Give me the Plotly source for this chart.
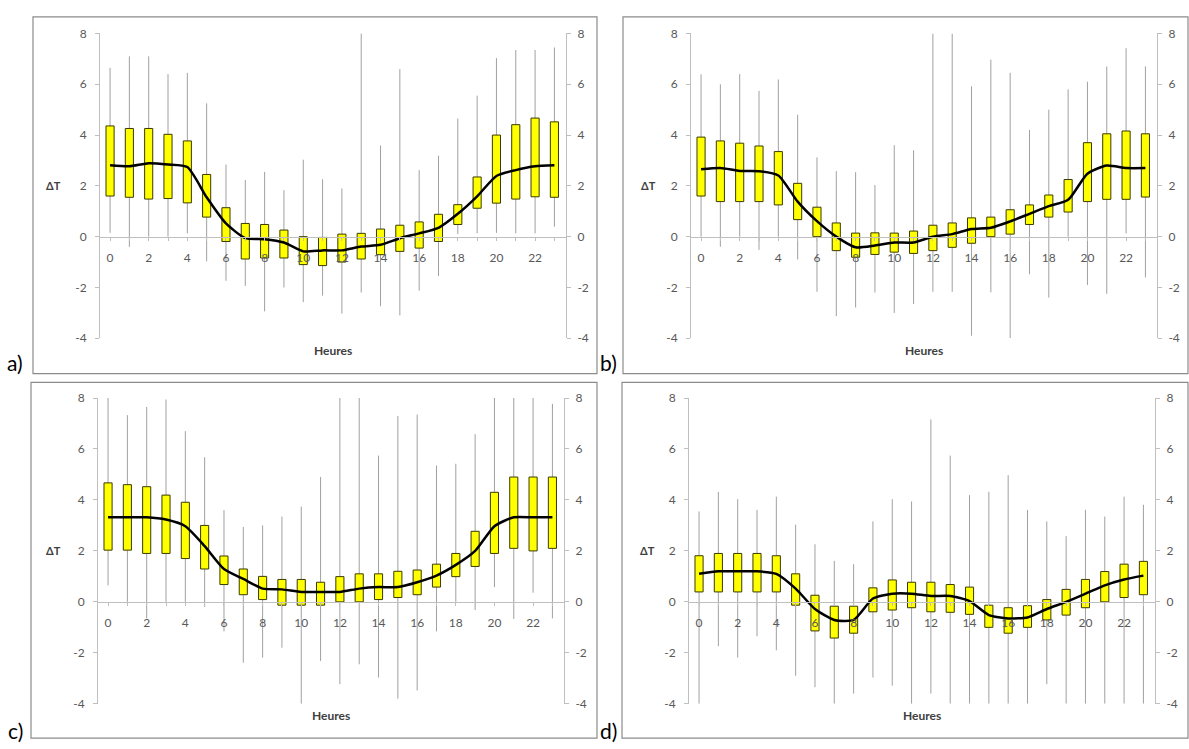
import plotly.graph_objects as go

W, H = 1189, 749

hours = list(range(24))
x_tickvals = list(range(0, 24, 2))
y_tickvals = [-4, -2, 0, 2, 4, 6, 8]
y_ticktext = ["-4", "-2", "0", "2", "4", "6", "8"]
panel_letters = ["a)", "b)", "c)", "d)"]

# ---- panel a ----
a_q3 = [4.36, 4.26, 4.26, 4.03, 3.77, 2.45, 1.14, 0.52, 0.48, 0.26, 0.0, -0.03, 0.1, 0.13, 0.3, 0.45, 0.58, 0.88, 1.26, 2.35, 4.0, 4.41, 4.67, 4.52]
a_q1 = [1.6, 1.55, 1.48, 1.5, 1.33, 0.77, -0.19, -0.88, -0.84, -0.84, -1.1, -1.14, -1.0, -0.88, -0.71, -0.58, -0.45, -0.19, 0.48, 1.12, 1.32, 1.48, 1.57, 1.55]
a_med = [2.81, 2.77, 2.89, 2.84, 2.74, 1.55, 0.52, -0.06, -0.1, -0.23, -0.58, -0.54, -0.54, -0.39, -0.32, -0.06, 0.13, 0.35, 0.9, 1.59, 2.39, 2.62, 2.77, 2.81]
a_hi = [6.65, 7.1, 7.1, 6.4, 6.45, 5.25, 2.84, 2.23, 2.55, 1.83, 3.03, 2.26, 1.9, 8.0, 3.59, 6.6, 2.62, 3.19, 4.65, 5.55, 7.03, 7.35, 7.35, 7.45]
a_lo = [0.15, -0.4, 0.0, 0.0, 0.13, -0.97, -1.74, -1.94, -2.94, -2.0, -2.58, -2.32, -3.03, -2.2, -2.74, -3.1, -2.13, -1.55, 0.1, 0.13, 0.15, 0.13, 0.13, 0.39]

# ---- panel b ----
b_q3 = [3.92, 3.77, 3.68, 3.57, 3.35, 2.1, 1.16, 0.54, 0.14, 0.15, 0.14, 0.22, 0.45, 0.54, 0.74, 0.77, 1.06, 1.25, 1.64, 2.25, 3.7, 4.05, 4.16, 4.05]
b_q1 = [1.6, 1.38, 1.38, 1.38, 1.25, 0.67, 0.0, -0.55, -0.81, -0.7, -0.61, -0.66, -0.55, -0.42, -0.26, 0.0, 0.1, 0.48, 0.77, 0.97, 1.38, 1.47, 1.47, 1.56]
b_med = [2.65, 2.7, 2.59, 2.58, 2.41, 1.38, 0.61, 0.0, -0.42, -0.35, -0.23, -0.23, 0.0, 0.1, 0.3, 0.35, 0.6, 0.9, 1.2, 1.45, 2.48, 2.8, 2.7, 2.7]
b_hi = [6.39, 6.0, 6.4, 5.74, 6.19, 4.8, 3.12, 2.58, 2.54, 2.03, 3.6, 3.4, 8.0, 8.0, 5.92, 6.97, 6.45, 4.2, 5.0, 5.8, 6.1, 6.7, 7.42, 6.7]
b_lo = [0.0, -0.4, 0.0, -0.52, 0.0, -0.9, -2.17, -3.13, -2.79, -2.2, -3.0, -2.65, -2.17, -2.17, -3.9, -2.19, -4.0, -1.48, -2.4, 0.0, -1.9, -2.25, 0.13, -1.6]

# ---- panel c ----
c_q3 = [4.67, 4.6, 4.52, 4.19, 3.91, 3.0, 1.8, 1.29, 1.0, 0.88, 0.88, 0.77, 0.99, 1.1, 1.1, 1.2, 1.25, 1.48, 1.9, 2.77, 4.3, 4.9, 4.9, 4.9]
c_q1 = [2.03, 2.03, 1.9, 1.9, 1.7, 1.29, 0.68, 0.28, 0.09, -0.13, -0.13, -0.13, 0.0, 0.0, 0.09, 0.17, 0.28, 0.58, 0.99, 1.39, 1.9, 2.1, 2.0, 2.1]
c_med = [3.32, 3.32, 3.32, 3.23, 2.97, 2.19, 1.29, 0.9, 0.52, 0.49, 0.39, 0.39, 0.39, 0.52, 0.58, 0.58, 0.77, 1.03, 1.45, 2.0, 2.97, 3.32, 3.32, 3.32]
c_hi = [8.0, 7.33, 7.65, 7.94, 6.7, 5.68, 3.6, 2.94, 3.0, 3.35, 3.74, 4.9, 8.0, 8.0, 5.74, 7.29, 7.35, 5.35, 5.42, 6.58, 8.0, 8.0, 8.0, 7.77]
c_lo = [0.65, 0.0, -0.65, 0.0, 0.0, -0.2, -1.16, -2.39, -2.19, -1.8, -4.0, -2.32, -3.23, -2.45, -2.97, -3.8, -3.48, -1.16, 0.0, -0.32, 0.58, -0.67, 0.36, -0.65]

# ---- panel d ----
d_q3 = [1.81, 1.9, 1.9, 1.9, 1.81, 1.1, 0.26, -0.17, -0.17, 0.55, 0.86, 0.77, 0.77, 0.68, 0.58, -0.13, -0.23, -0.15, 0.09, 0.49, 0.88, 1.19, 1.48, 1.59]
d_q1 = [0.39, 0.39, 0.39, 0.39, 0.39, -0.13, -1.14, -1.42, -1.23, -0.39, -0.32, -0.23, -0.39, -0.41, -0.49, -1.0, -1.23, -1.0, -0.71, -0.52, -0.23, 0.0, 0.17, 0.28]
d_med = [1.1, 1.2, 1.2, 1.2, 1.1, 0.52, -0.28, -0.71, -0.71, 0.13, 0.32, 0.32, 0.23, 0.23, 0.03, -0.52, -0.65, -0.61, -0.28, 0.0, 0.32, 0.65, 0.88, 1.03]
d_hi = [3.55, 4.32, 4.03, 3.61, 4.13, 3.03, 2.26, 1.61, 1.48, 3.16, 4.03, 3.94, 7.16, 5.74, 4.19, 4.32, 4.97, 3.61, 3.16, 2.58, 3.61, 3.35, 4.13, 3.81]
d_lo = [-4.0, -1.74, -2.19, -1.35, -1.9, -2.9, -3.35, -4.0, -3.6, -2.97, -3.29, -4.0, -3.6, -4.0, -4.0, -4.0, -4.0, -4.0, -3.23, -4.0, -4.0, -4.0, -4.0, -4.0]

panels_data = [
    (a_q1, a_q3, a_med, a_lo, a_hi),
    (b_q1, b_q3, b_med, b_lo, b_hi),
    (c_q1, c_q3, c_med, c_lo, c_hi),
    (d_q1, d_q3, d_med, d_lo, d_hi),
]

# layout geometry (pixels)
geom = [
    dict(xl=100, xr=566, yt=26, yb=337, frame=(33, 9, 597, 373), lab=(15, 362), dt=53, heures=350),
    dict(xl=691, xr=1157, yt=26, yb=337, frame=(623, 9, 1188, 373), lab=(608, 362), dt=648, heures=350),
    dict(xl=98, xr=564, yt=398, yb=710, frame=(31, 382, 597, 745), lab=(15, 737), dt=53, heures=722),
    dict(xl=689, xr=1155, yt=398, yb=710, frame=(622, 382, 1188, 745), lab=(608, 737), dt=647, heures=722),
]

XR = [-0.52, 23.6]
YR = [-4, 8]
FONT = "Lato, Open Sans, sans-serif"
GRAY_TXT = "#595959"
AXIS_COL = "#BFBFBF"

def px_x(p):
    return p / W

def px_y(p):
    return 1 - p / H

fig = go.Figure()
layout = {}
shapes = []
annotations = []

for i, (q1, q3, med, lo, hi) in enumerate(panels_data):
    g = geom[i]
    xa = "x" if i == 0 else f"x{i+1}"
    ya = "y" if i == 0 else f"y{2*i+1}"
    yb = f"y{2*i+2}"
    xkey = "xaxis" if i == 0 else f"xaxis{i+1}"
    ykey = "yaxis" if i == 0 else f"yaxis{2*i+1}"
    ykey2 = f"yaxis{2*i+2}"

    ydom = [px_y(g["yb"]), px_y(g["yt"])]
    xdom = [px_x(g["xl"]), px_x(g["xr"])]
    zero_pos = ydom[0] + (0 - YR[0]) / (YR[1] - YR[0]) * (ydom[1] - ydom[0])

    # whiskers (base subplot, drawn underneath)
    fig.add_trace(go.Scatter(
        x=hours, y=lo, mode="markers", marker=dict(size=0.1, color="rgba(0,0,0,0)"),
        error_y=dict(type="data", symmetric=False,
                     array=[h - l for h, l in zip(hi, lo)],
                     arrayminus=[0] * len(lo), width=0, thickness=1, color="#A0A0A0"),
        xaxis=xa, yaxis=ya, showlegend=False, hoverinfo="skip"))
    # boxes (overlay subplot, drawn above whiskers)
    fig.add_trace(go.Bar(
        x=hours, y=[b - a for a, b in zip(q1, q3)], base=q1, width=0.42,
        marker=dict(color="#FFFF00", line=dict(color="#3A3A00", width=1)),
        xaxis=xa, yaxis=yb, showlegend=False))
    # median line
    fig.add_trace(go.Scatter(
        x=hours, y=med, mode="lines",
        line=dict(color="black", width=2.5, shape="spline", smoothing=0.6),
        xaxis=xa, yaxis=yb, showlegend=False))

    layout[xkey] = dict(
        domain=xdom, range=XR, anchor="free", position=zero_pos,
        tickmode="array", tickvals=x_tickvals, ticktext=[str(v) for v in x_tickvals],
        showline=True, linecolor=AXIS_COL, linewidth=1,
        ticks="outside", ticklen=3, tickcolor=AXIS_COL,
        minor=dict(dtick=1, tick0=0, ticks="outside", ticklen=3, tickcolor=AXIS_COL, showgrid=False),
        ticklabelstandoff=7,
        tickfont=dict(family=FONT, size=12, color=GRAY_TXT),
        showgrid=False, zeroline=False, fixedrange=True)
    layout[ykey] = dict(
        domain=ydom, range=YR, anchor=xa, side="left",
        tickmode="array", tickvals=y_tickvals, ticktext=y_ticktext,
        showline=True, linecolor=AXIS_COL, linewidth=1,
        ticks="outside", ticklen=4, tickcolor=AXIS_COL, ticklabelstandoff=6,
        tickfont=dict(family=FONT, size=12, color=GRAY_TXT),
        showgrid=False, zeroline=False, fixedrange=True)
    layout[ykey2] = dict(
        range=YR, overlaying=ya, anchor=xa, side="right",
        tickmode="array", tickvals=y_tickvals, ticktext=y_ticktext,
        showline=True, linecolor=AXIS_COL, linewidth=1,
        ticks="outside", ticklen=4, tickcolor=AXIS_COL, ticklabelstandoff=4,
        tickfont=dict(family=FONT, size=12, color=GRAY_TXT),
        showgrid=False, zeroline=False, fixedrange=True)

    fx0, fy0, fx1, fy1 = g["frame"]
    shapes.append(dict(type="rect", xref="paper", yref="paper",
                       x0=px_x(fx0), x1=px_x(fx1), y0=px_y(fy1), y1=px_y(fy0),
                       line=dict(color="#8C8C8C", width=1.2), fillcolor="rgba(0,0,0,0)", layer="below"))

    annotations.append(dict(text="Heures", xref=f"{xa} domain", x=0.5, yref="paper", y=px_y(g["heures"]),
                            showarrow=False, xanchor="center", yanchor="middle",
                            font=dict(family=FONT, size=12, color="#404040", weight="bold")))
    annotations.append(dict(text="ΔT", xref="paper", x=px_x(g["dt"]), yref=ya, y=2,
                            showarrow=False, xanchor="center", yanchor="middle",
                            font=dict(family=FONT, size=11, color="#404040", weight="bold")))
    annotations.append(dict(text=panel_letters[i], xref="paper", x=px_x(g["lab"][0]), yref="paper",
                            y=px_y(g["lab"][1]), showarrow=False, xanchor="center", yanchor="middle",
                            font=dict(family=FONT, size=21, color="black")))

fig.update_layout(
    width=W, height=H, margin=dict(l=0, r=0, t=0, b=0),
    paper_bgcolor="white", plot_bgcolor="white",
    showlegend=False, barmode="overlay",
    shapes=shapes, annotations=annotations,
    **layout)

fig.write_html("out.html")
